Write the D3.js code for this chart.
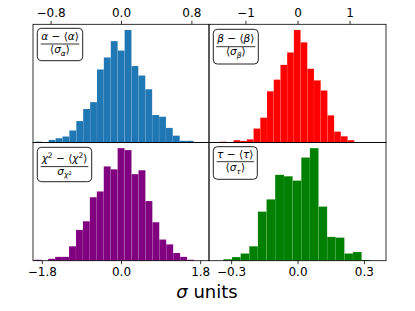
<!DOCTYPE html>
<html>
<head>
<meta charset="utf-8">
<script src="https://cdn.jsdelivr.net/npm/d3@7"></script>
<style>
  html, body { margin: 0; padding: 0; background: #fff; }
  svg { display: block; font-family: "DejaVu Sans", sans-serif; }
</style>
</head>
<body>
<svg id="chart" width="415" height="311"></svg>
<script>
// ---------------- data ----------------
const alphaEdges = [-0.978,-0.900,-0.822,-0.743,-0.665,-0.587,-0.508,-0.430,-0.351,-0.273,-0.195,-0.116,-0.038,0.041,0.119,0.197,0.276,0.354,0.433,0.511,0.589,0.668,0.746,0.825];
const alphaCounts = [1,0,3,5,7,14,25,39,47,85,99,118,107,131,89,78,62,32,30,17,8,2,2];

const betaEdges = [-1.489,-1.360,-1.231,-1.102,-0.973,-0.844,-0.715,-0.586,-0.457,-0.328,-0.199,-0.070,0.059,0.188,0.317,0.446,0.575,0.704,0.833,0.962,1.091];
const betaCounts = [1,0,3,2,4,18,32,66,81,100,116,145,129,95,80,67,35,14,8,3];

const chiEdges = [-1.970,-1.812,-1.655,-1.497,-1.339,-1.181,-1.023,-0.866,-0.708,-0.550,-0.392,-0.234,-0.077,0.081,0.239,0.397,0.555,0.713,0.870,1.028,1.186,1.344,1.502,1.659];
const chiCounts = [1,0,2,4,4,15,32,41,66,72,98,95,117,115,90,94,62,40,22,17,8,4,1];

const tauEdges = [-0.335,-0.296,-0.257,-0.218,-0.179,-0.140,-0.101,-0.061,-0.022,0.017,0.056,0.095,0.134,0.173,0.212,0.251,0.290,0.330];
const tauCounts = [2,5,10,20,68,85,119,117,111,143,156,75,33,32,10,12,1];

const alphaTicks = [-0.8, 0.0, 0.8];
const betaTicks = [-1, 0, 1];
const chiTicks = [-1.8, 0.0, 1.8];
const tauTicks = [-0.3, 0.0, 0.3];

const alphaLim = [-1.0, 1.0];
const betaLim = [-1.7, 1.7];
const chiLim = [-2.0, 2.0];
const tauLim = [-0.4, 0.4];

const xLabel = "units";

// ---------------- layout ----------------
const svg = d3.select("#chart");
const L = 33, M = 209, R = 386, T = 24.3, MY = 142.5, B = 260.7;
const fmt1 = v => (v < 0 ? "\u2212" : "") + Math.abs(v).toFixed(1);
const fmt0 = v => (v < 0 ? "\u2212" : "") + Math.abs(v).toFixed(0);

const panels = [
  {edges: alphaEdges, counts: alphaCounts, lim: alphaLim, ticks: alphaTicks, fmt: fmt1, color: "#1f77b4",
   x0: L, x1: M, y0: T, y1: MY, tickSide: "top", lab: "alpha",
   box: {dx: 4.3, dy: 4.0, w: 45.4, h: 32.4, num: 11.7, line: 15.7, den: 24.7}},
  {edges: betaEdges, counts: betaCounts, lim: betaLim, ticks: betaTicks, fmt: fmt0, color: "#ff0000",
   x0: M, x1: R, y0: T, y1: MY, tickSide: "top", lab: "beta",
   box: {dx: 4.3, dy: 5.0, w: 45.0, h: 34.7, num: 12.5, line: 17.4, den: 26.0}},
  {edges: chiEdges, counts: chiCounts, lim: chiLim, ticks: chiTicks, fmt: fmt1, color: "#800080",
   x0: L, x1: M, y0: MY, y1: B, tickSide: "bottom", lab: "chi",
   box: {dx: 4.3, dy: 4.8, w: 54.4, h: 34.4, num: 14.5, line: 19.3, den: 27.5}},
  {edges: tauEdges, counts: tauCounts, lim: tauLim, ticks: tauTicks, fmt: fmt1, color: "#008000",
   x0: M, x1: R, y0: MY, y1: B, tickSide: "bottom", lab: "tau",
   box: {dx: 4.3, dy: 4.2, w: 44.0, h: 32.6, num: 11.7, line: 15.0, den: 24.5}}
];

function addSeg(t, str, opts) {
  const s = t.append("tspan").text(str);
  if (opts && opts.it) s.attr("font-style", "italic");
  if (opts && opts.fs) s.attr("font-size", opts.fs);
  if (opts && opts.dy) s.attr("dy", opts.dy);
  return s;
}

function buildLabel(g, p) {
  const b = p.box;
  const bx = p.x0 + b.dx, by = p.y0 + b.dy;
  g.append("rect").attr("x", bx).attr("y", by).attr("width", b.w).attr("height", b.h)
    .attr("rx", 4).attr("ry", 4).attr("fill", "#fff").attr("stroke", "#222").attr("stroke-width", 1);
  const mid = bx + b.w / 2;
  const num = g.append("text").attr("x", mid).attr("y", by + b.num).attr("text-anchor", "middle").attr("font-size", 10.5);
  const den = g.append("text").attr("x", mid).attr("y", by + b.den).attr("text-anchor", "middle").attr("font-size", 10.5);
  const ml = "\u27E8", mr = "\u27E9", minus = " \u2212 ";
  if (p.lab === "alpha" || p.lab === "beta" || p.lab === "tau") {
    const g1 = p.lab === "alpha" ? "\u03B1" : p.lab === "beta" ? "\u03B2" : "\u03C4";
    addSeg(num, g1, {it: true}); addSeg(num, minus); addSeg(num, ml); addSeg(num, g1, {it: true}); addSeg(num, mr);
    addSeg(den, ml); addSeg(den, "\u03C3", {it: true}); addSeg(den, g1, {it: true, fs: 7.5, dy: 2.5}); addSeg(den, mr, {dy: -2.5});
  } else {
    addSeg(num, "\u03C7", {it: true}); addSeg(num, "2", {fs: 7.5, dy: -4}); addSeg(num, minus, {dy: 4});
    addSeg(num, ml); addSeg(num, "\u03C7", {it: true}); addSeg(num, "2", {fs: 7.5, dy: -4}); addSeg(num, mr, {dy: 4});
    addSeg(den, "\u03C3", {it: true}); addSeg(den, "\u03C7", {it: true, fs: 7.5, dy: 2.5}); addSeg(den, "2", {fs: 5, dy: -2.5});
  }
  const wN = num.node().getBBox().width, wD = den.node().getBBox().width;
  const lw = Math.max(wN, wD) + 1;
  g.append("line").attr("x1", mid - lw / 2).attr("x2", mid + lw / 2)
    .attr("y1", by + b.line).attr("y2", by + b.line).attr("stroke", "#000").attr("stroke-width", 0.8);
}

panels.forEach(p => {
  const g = svg.append("g");
  const x = d3.scaleLinear().domain(p.lim).range([p.x0, p.x1]);
  const y = d3.scaleLinear().domain([0, d3.max(p.counts) * 1.05]).range([p.y1, p.y0]);
  const bins = p.counts.map((c, i) => ({c, a: p.edges[i], b: p.edges[i + 1]}));
  g.selectAll("rect.bar").data(bins).join("rect").attr("class", "bar")
    .attr("x", d => x(d.a)).attr("width", d => x(d.b) - x(d.a))
    .attr("y", d => y(d.c)).attr("height", d => y(0) - y(d.c))
    .attr("fill", p.color).attr("stroke", "#fff").attr("stroke-opacity", 0.15).attr("stroke-width", 0.5);

  g.append("rect").attr("x", p.x0).attr("y", p.y0).attr("width", p.x1 - p.x0).attr("height", p.y1 - p.y0)
    .attr("fill", "none").attr("stroke", "#000").attr("stroke-width", 0.8);

  const ax = (p.tickSide === "top" ? d3.axisTop(x) : d3.axisBottom(x))
    .tickValues(p.ticks).tickFormat(p.fmt).tickSize(3.5).tickPadding(3.5);
  const ag = g.append("g").attr("transform", `translate(0,${p.tickSide === "top" ? p.y0 : p.y1})`).call(ax);
  ag.select(".domain").remove();
  ag.selectAll("text").attr("font-size", 12).attr("font-family", "DejaVu Sans").attr("fill", "#000");
  ag.selectAll("line").attr("stroke", "#000").attr("stroke-width", 0.8);
  buildLabel(g, p);
});

const xl = svg.append("text").attr("x", 207).attr("y", 297.5).attr("text-anchor", "middle").attr("font-size", 18);
xl.append("tspan").attr("font-style", "italic").text("\u03C3");
xl.append("tspan").text(" " + xLabel);
</script>
</body>
</html>
